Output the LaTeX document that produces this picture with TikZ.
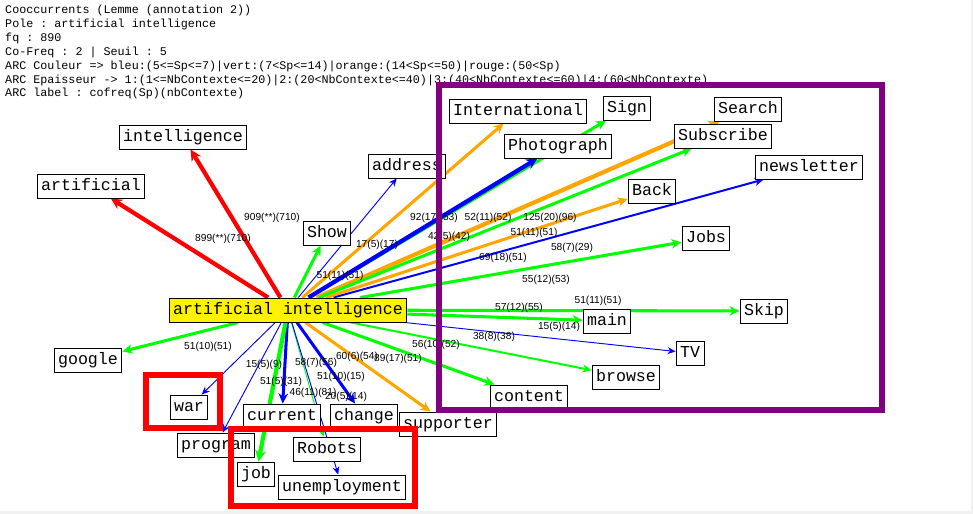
\documentclass[tikz,border=0pt]{standalone}
\usepackage{fontspec}
\setsansfont{Liberation Sans}
\setmonofont{Liberation Mono}
\usetikzlibrary{arrows.meta,backgrounds}

\definecolor{arcorange}{RGB}{255,165,0}
\definecolor{framepurple}{RGB}{128,0,128}

\tikzset{
  word/.style={draw=black, line width=0.8pt, fill=white,
    font=\ttfamily\fontsize{14.2}{16}\selectfont,
    text height=10.5pt, text depth=3pt, inner xsep=3.4pt, inner ysep=3.5pt},
  pole/.style={word, fill=yellow},
  lbl/.style={font=\sffamily\fontsize{8.7}{10}\selectfont, inner sep=0pt},
  head/.style={font=\ttfamily\fontsize{10}{12}\selectfont, inner sep=0pt, anchor=base west},
  cofreq/.style={-{Stealth[length=6pt 1, width=5pt 1.2]}},
  ep1/.style={cofreq, line width=0.8pt},
  ep2/.style={cofreq, line width=1.7pt},
  ep3/.style={cofreq, line width=2.6pt},
  ep4/.style={cofreq, line width=3.6pt},
}

\begin{document}
\begin{tikzpicture}[x=0.03cm, y=-0.03cm]
\useasboundingbox (0,0) rectangle (973,514);

% Header
\node[head] (h1) at (5,14) {Cooccurrents (Lemme (annotation 2))};
\node[head] (h2) at (5,27.8) {Pole : artificial intelligence};
\node[head] (h3) at (5,41.7) {fq : 890};
\node[head] (h4) at (5,55.5) {Co-Freq : 2 | Seuil : 5};
\node[head] (h5) at (5,69.3) {ARC Couleur => bleu:(5<=Sp<=7)|vert:(7<Sp<=14)|orange:(14<Sp<=50)|rouge:(50<Sp)};
\node[head] (h6) at (5,83.2) {ARC Epaisseur -> 1:(1<=NbContexte<=20)|2:(20<NbContexte<=40)|3:(40<NbContexte<=60)|4:(60<NbContexte)};
\node[head] (h7) at (5,97) {ARC label : cofreq(Sp)(nbContexte)};

% Pole
\node[pole] (ai) at (288,310) {artificial intelligence};

% Cooccurrents
\node[word] (intelligence) at (183,137) {intelligence};
\node[word] (artificial) at (91,186) {artificial};
\node[word] (google) at (88,360) {google};
\node[word] (war) at (189,407) {war};
\node[word] (program) at (216,445) {program};
\node[word] (current) at (282,416) {current};
\node[word] (change) at (364,416) {change};
\node[word] (supporter) at (448,424) {supporter};
\node[word] (robots) at (327,449) {Robots};
\node[word] (job) at (256,474) {job};
\node[word] (unemployment) at (342,487) {unemployment};
\node[word] (content) at (529,397) {content};
\node[word] (browse) at (626,377) {browse};
\node[word] (tv) at (690,353) {TV};
\node[word] (main) at (607,321) {main};
\node[word] (skip) at (764,311) {Skip};
\node[word] (jobs) at (706,238) {Jobs};
\node[word] (back) at (652,191) {Back};
\node[word] (newsletter) at (809,167) {newsletter};
\node[word] (subscribe) at (723,136) {Subscribe};
\node[word] (search) at (748,109) {Search};
\node[word] (photograph) at (558,146) {Photograph};
\node[word] (international) at (518,111) {International};
\node[word] (sign) at (627,108) {Sign};
\node[word] (address) at (407,166) {address};
\node[word] (show) at (327,233) {Show};

% Arcs, under the boxes
\begin{pgfonlayer}{background}
\fill[white] (0,0) rectangle (973,514);
\fill[black!6] (971,0) rectangle (973,514);
\fill[black!6] (0,511) rectangle (973,514);

\draw[ep4, red] (ai) -- (intelligence);
\draw[ep4, red] (ai) -- (artificial);
\draw[ep3, green] (ai) -- (google);
\draw[ep1, blue] (ai) -- (war);
\draw[ep1, blue] (ai) -- (program);
\draw[ep3, blue] (ai) -- (current);
\draw[ep4, green] (ai) -- (job);
\draw[ep1, green] (ai) -- (robots);
\draw[ep1, blue] (ai) -- (unemployment);
\draw[ep3, blue] (ai) -- (change);
\draw[ep3, arcorange] (ai) -- (supporter);
\draw[ep3, green] (ai) -- (content);
\draw[ep2, green] (ai) -- (browse);
\draw[ep1, blue] (ai) -- (tv);
\draw[ep3, green] (ai) -- (main);
\draw[ep3, green] (ai) -- (skip);
\draw[ep3, green] (ai) -- (jobs);
\draw[ep2, blue] (ai) -- (newsletter);
\draw[ep3, arcorange] (ai) -- (back);
\draw[ep4, arcorange] (ai) -- (search);
\draw[ep3, green] (ai) -- (subscribe);
\draw[ep3, green] (ai) -- (sign);
\draw[ep4, blue] (ai) -- (photograph);
\draw[ep3, arcorange] (ai) -- (international);
\draw[ep1, blue] (ai) -- (address);
\draw[ep3, green] (ai) -- (show);
\end{pgfonlayer}

% Arc labels
\node[lbl] (lbIntelligence) at (272,218) {909(**)(710)};
\node[lbl] (lbArtificial) at (223,239) {899(**)(710)};
\node[lbl] (lbGoogle) at (208,347) {51(10)(51)};
\node[lbl] (lbShow) at (340,276) {51(11)(51)};
\node[lbl] (lbAddress) at (377,245) {17(5)(17)};
\node[lbl] (lbInternational) at (434,218) {92(17)(53)};
\node[lbl] (lbSign) at (488,218) {52(11)(52)};
\node[lbl] (lbSearch) at (550,218) {125(20)(96)};
\node[lbl] (lbPhotograph) at (449,237) {42(5)(42)};
\node[lbl] (lbSubscribe) at (534,233) {51(11)(51)};
\node[lbl] (lbNewsletter) at (572,248) {58(7)(29)};
\node[lbl] (lbBack) at (503,258) {69(18)(51)};
\node[lbl] (lbJobs) at (546,280) {55(12)(53)};
\node[lbl] (lbMain) at (519,308) {57(12)(55)};
\node[lbl] (lbSkip) at (598,301) {51(11)(51)};
\node[lbl] (lbTv) at (559,327) {15(5)(14)};
\node[lbl] (lbBrowse) at (494,337) {38(8)(38)};
\node[lbl] (lbContent) at (436,345) {56(10)(52)};
\node[lbl] (lbSupporter) at (398,359) {89(17)(51)};
\node[lbl] (lbChange) at (357,357) {60(6)(54)};
\node[lbl] (lbCurrent) at (316,363) {58(7)(56)};
\node[lbl] (lbRobots) at (341,377) {51(10)(15)};
\node[lbl] (lbUnemployment) at (346,397) {20(5)(14)};
\node[lbl] (lbJob) at (313,393) {46(11)(81)};
\node[lbl] (lbProgram) at (281,382) {51(5)(31)};
\node[lbl] (lbWar) at (264,365) {15(5)(9)};

% Highlight frames
\draw[framepurple, line width=5.1pt] (439,85) rectangle (882,410);
\draw[red, line width=5.5pt] (146,375) rectangle (220,428);
\draw[red, line width=5.5pt] (231,429) rectangle (415,506);

\end{tikzpicture}
\end{document}
